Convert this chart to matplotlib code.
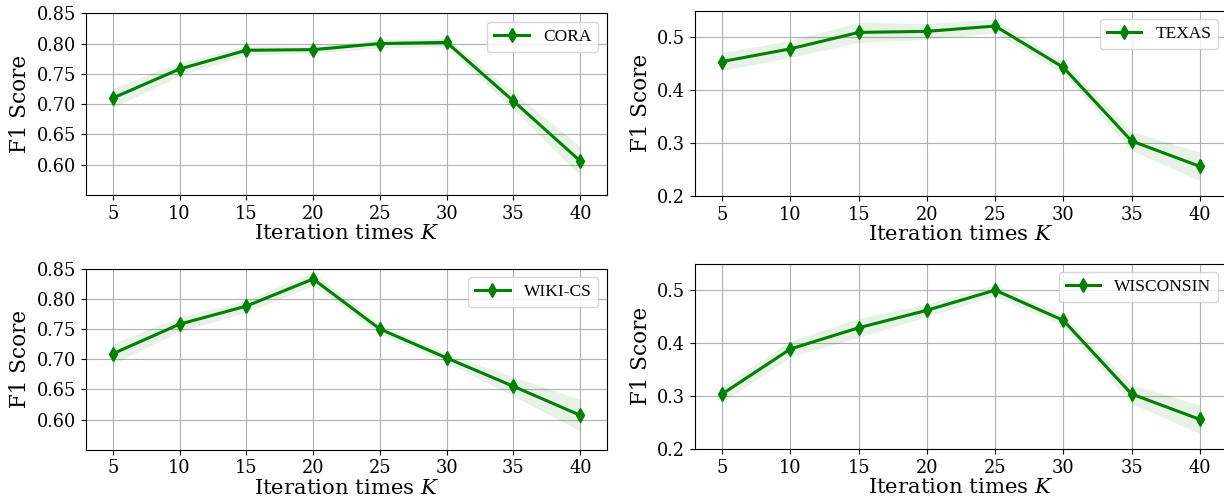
import numpy as np
import matplotlib
matplotlib.use('Agg')
import matplotlib.pyplot as plt

plt.rcParams['font.family'] = ['DejaVu Serif']
plt.rcParams['mathtext.fontset'] = 'dejavuserif'

iters = [5, 10, 15, 20, 25, 30, 35, 40]

cora = [0.710, 0.758, 0.789, 0.790, 0.800, 0.802, 0.705, 0.606]
cora_std = [0.016, 0.011, 0.008, 0.006, 0.007, 0.007, 0.014, 0.024]

texas = [0.454, 0.478, 0.509, 0.511, 0.521, 0.443, 0.304, 0.256]
texas_std = [0.017, 0.016, 0.019, 0.015, 0.013, 0.011, 0.018, 0.027]

wikics = [0.709, 0.758, 0.788, 0.833, 0.750, 0.702, 0.655, 0.607]
wikics_std = [0.017, 0.012, 0.010, 0.011, 0.008, 0.007, 0.016, 0.026]

wisconsin = [0.304, 0.389, 0.429, 0.462, 0.500, 0.443, 0.304, 0.256]
wisconsin_std = [0.015, 0.015, 0.018, 0.012, 0.011, 0.010, 0.018, 0.027]

W, H = 1224, 498
fig = plt.figure(figsize=(W / 100, H / 100), dpi=100)


def px_axes(left, top, right, bottom):
    return fig.add_axes([left / W, (H - bottom) / H, (right - left) / W, (bottom - top) / H])


panels = [
    (px_axes(86, 13.3, 607, 195), cora, cora_std, 'CORA', (0.55, 0.85),
     [0.60, 0.65, 0.70, 0.75, 0.80, 0.85], '%.2f'),
    (px_axes(695, 10.7, 1227, 196), texas, texas_std, 'TEXAS', (0.2, 0.55),
     [0.2, 0.3, 0.4, 0.5], '%.1f'),
    (px_axes(86, 268.7, 607, 449.7), wikics, wikics_std, 'WIKI-CS', (0.55, 0.85),
     [0.60, 0.65, 0.70, 0.75, 0.80, 0.85], '%.2f'),
    (px_axes(695, 263.7, 1227, 449), wisconsin, wisconsin_std, 'WISCONSIN', (0.2, 0.55),
     [0.2, 0.3, 0.4, 0.5], '%.1f'),
]

for ax, vals, std, name, ylim, yticks, fmt in panels:
    vals = np.array(vals)
    std = np.array(std)
    ax.fill_between(iters, vals - std, vals + std, color='green', alpha=0.1, linewidth=0)
    ax.plot(iters, vals, color='green', marker='d', markersize=7.5, linewidth=2.2, label=name)
    ax.set_xlim(3, 42)
    ax.set_ylim(*ylim)
    ax.set_xticks(iters)
    ax.set_yticks(yticks)
    ax.set_yticklabels([fmt % t for t in yticks])
    ax.tick_params(labelsize=12.8)
    ax.grid(True, color='#b0b0b0', linewidth=0.8)
    ax.set_axisbelow(True)
    ax.set_xlabel('Iteration times $K$', fontsize=15.3, labelpad=1)
    ax.set_ylabel('F1 Score', fontsize=15.5)
    ax.legend(loc='upper right', prop={'family': ['Liberation Serif'], 'size': 12.5})

fig.savefig('out.png', dpi=100)
